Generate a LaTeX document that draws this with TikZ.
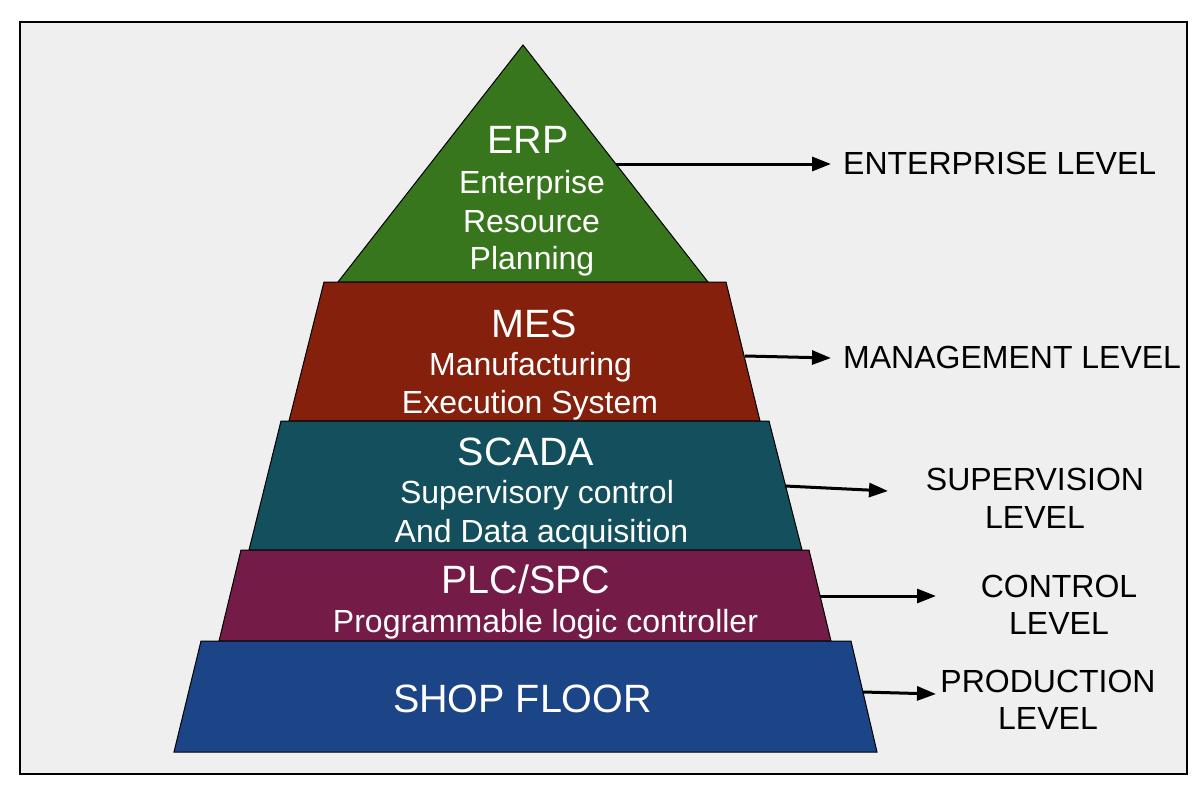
\documentclass[tikz,border=0pt]{standalone}
\usepackage{fontspec}
\setmainfont{Liberation Sans}
\usetikzlibrary{arrows.meta}
\definecolor{bg}{HTML}{EFEFEF}
\definecolor{erpc}{HTML}{38761D}
\definecolor{mesc}{HTML}{85200C}
\definecolor{scadac}{HTML}{134F5C}
\definecolor{plcc}{HTML}{741B47}
\definecolor{shopc}{HTML}{1C4587}
\begin{document}
\begin{tikzpicture}[x=1pt,y=-1pt,
  layer/.style={draw=black, line width=1pt},
  title/.style={text=white, inner sep=0pt, anchor=base, font=\fontsize{39.5}{42}\selectfont},
  body/.style={text=white, inner sep=0pt, anchor=base, font=\fontsize{32}{37}\selectfont},
  lvl/.style={text=black, inner sep=0pt, anchor=base, font=\fontsize{32}{37}\selectfont},
  lvlw/.style={lvl, anchor=base west},
  link/.style={draw=black, line width=3pt, -{Triangle[length=19pt,width=14pt]}}]
\useasboundingbox (0,0) rectangle (1200,800);
\fill[white] (0,0) rectangle (1200,800);
\draw[fill=bg, line width=1.3pt] (20,22) rectangle (1187,774);
% layers
\draw[layer, fill=erpc] (523,45) -- (708,282) -- (338,282) -- cycle;
\draw[layer, fill=mesc] (324,282) -- (726,282) -- (760,421) -- (289,421) -- cycle;
\draw[layer, fill=scadac] (281,421) -- (769,421) -- (802,550) -- (249,550) -- cycle;
\draw[layer, fill=plcc] (241,550) -- (809,550) -- (831,641) -- (219,641) -- cycle;
\draw[layer, fill=shopc] (201,641) -- (851,641) -- (877,752) -- (174,752) -- cycle;
% layer texts
\node[title] (erpT) at (528,153) {ERP};
\node[body] (erp1) at (532,193) {Enterprise};
\node[body] (erp2) at (531.5,232) {Resource};
\node[body] (erp3) at (532,269) {Planning};
\node[title] (mesT) at (534,337) {MES};
\node[body] (mes1) at (530.5,375) {Manufacturing};
\node[body] (mes2) at (530,413) {Execution System};
\node[title] (scaT) at (526,465) {SCADA};
\node[body] (sca1) at (537,503) {Supervisory control};
\node[body] (sca2) at (541.5,542) {And Data acquisition};
\node[title] (plcT) at (526,593) {PLC/SPC};
\node[body] (plc1) at (545.5,632) {Programmable logic controller};
\node[title] (shopT) at (522.5,712) {SHOP FLOOR};
% level labels
\node[lvlw] (entL) at (843,174) {ENTERPRISE LEVEL};
\node[lvlw] (manL) at (843,368) {MANAGEMENT LEVEL};
\node[lvl] (supL1) at (1035,490) {SUPERVISION};
\node[lvl] (supL2) at (1035,528) {LEVEL};
\node[lvl] (conL1) at (1059,597) {CONTROL};
\node[lvl] (conL2) at (1059,634) {LEVEL};
\node[lvl] (proL1) at (1048,692) {PRODUCTION};
\node[lvl] (proL2) at (1048,729) {LEVEL};
% connector endpoints
\coordinate (erpS) at (616,164);  \coordinate (erpE) at (831,164);
\coordinate (mesS) at (745,356);  \coordinate (mesE) at (831,358);
\coordinate (scaS) at (785,486);  \coordinate (scaE) at (888,491);
\coordinate (plcS) at (820,596);  \coordinate (plcE) at (936,596);
\coordinate (shopS) at (863,692); \coordinate (shopE) at (936,694);
\draw[link] (erpS) -- (erpE);
\draw[link] (mesS) -- (mesE);
\draw[link] (scaS) -- (scaE);
\draw[link] (plcS) -- (plcE);
\draw[link] (shopS) -- (shopE);
\end{tikzpicture}
\end{document}
